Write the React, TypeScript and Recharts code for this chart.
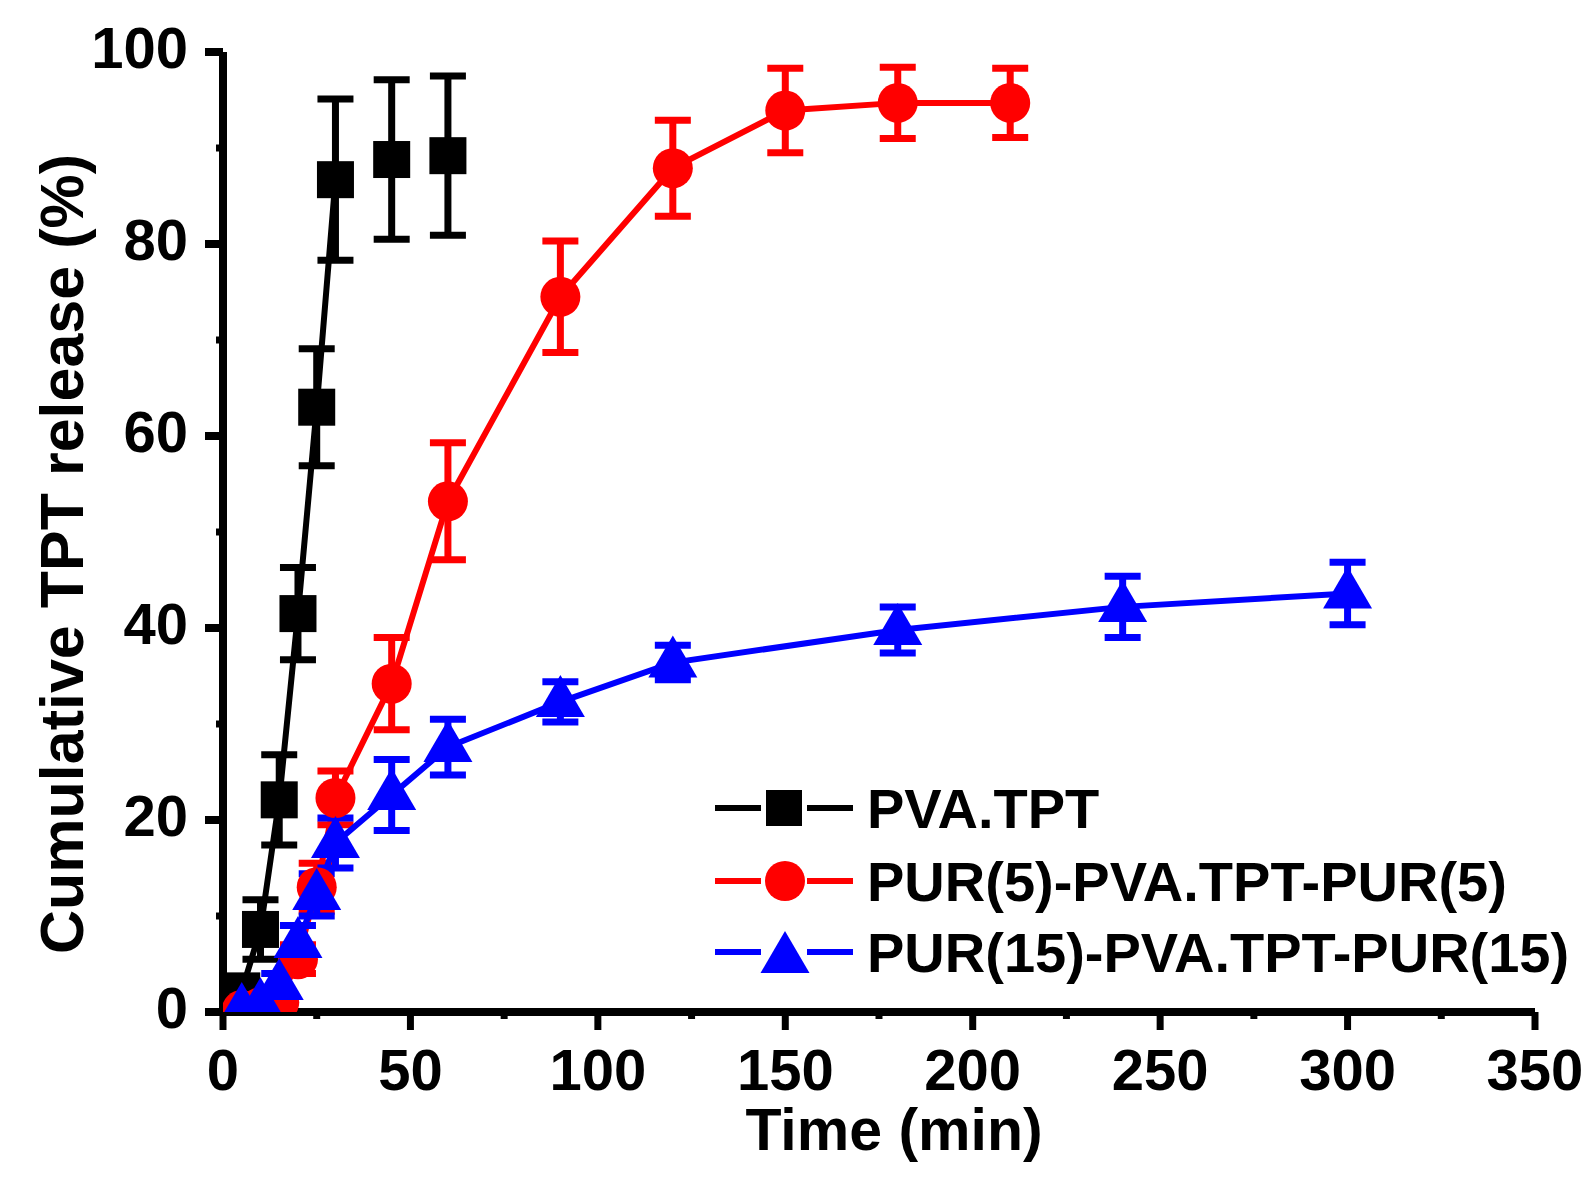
import React from "react";
import { ComposedChart, Line, XAxis, YAxis, ErrorBar, Legend } from "recharts";

// time (min), cumulative release (%) and SD for each formulation
const BLACK_TIME = [5, 10, 15, 20, 25, 30];
const BLACK_RELEASE = [2.2, 8.6, 22.1, 41.5, 63.0, 86.7];
const BLACK_ERR = [0.8, 3.1, 4.7, 4.8, 6.1, 8.4];
// the last two PVA.TPT points are plotted without a connecting line
const BLACK_LATE_TIME = [45, 60];
const BLACK_LATE_RELEASE = [88.8, 89.2];
const BLACK_LATE_ERR = [8.3, 8.3];

const RED_TIME = [5, 10, 15, 20, 25, 30, 45, 60, 90, 120, 150, 180, 210];
const RED_RELEASE = [0.2, 0.5, 1.0, 5.5, 13.0, 22.3, 34.2, 53.2, 74.5, 87.9, 93.9, 94.7, 94.7];
const RED_ERR = [0, 0.3, 0.5, 1.5, 2.5, 2.8, 4.8, 6.1, 5.8, 5.0, 4.4, 3.7, 3.6];

const BLUE_TIME = [5, 10, 15, 20, 25, 30, 45, 60, 90, 120, 180, 240, 300];
const BLUE_RELEASE = [0.3, 0.8, 2.8, 7.2, 12.2, 17.6, 22.6, 27.6, 32.3, 36.4, 39.8, 42.2, 43.6];
const BLUE_ERR = [0.3, 0.5, 1.2, 1.8, 2.2, 2.6, 3.7, 2.9, 2.1, 1.8, 2.4, 3.2, 3.25];

const X_TICKS = [0, 50, 100, 150, 200, 250, 300, 350];
const X_MINOR = [25, 75, 125, 175, 225, 275, 325];
const Y_TICKS = [0, 20, 40, 60, 80, 100];
const Y_MINOR = [10, 30, 50, 70, 90];

const SERIES_NAMES = ["PVA.TPT", "PUR(5)-PVA.TPT-PUR(5)", "PUR(15)-PVA.TPT-PUR(15)"];
const COLORS = ["#000000", "#ff0000", "#0000ff"];

const FONT = "'Liberation Sans', Arial, sans-serif";

const toPoints = (t: number[], v: number[], e: number[]) =>
  t.map((time, i) => ({ time, value: v[i], err: e[i] }));

const blackData = toPoints(BLACK_TIME, BLACK_RELEASE, BLACK_ERR);
const blackLateData = toPoints(BLACK_LATE_TIME, BLACK_LATE_RELEASE, BLACK_LATE_ERR);
const redData = toPoints(RED_TIME, RED_RELEASE, RED_ERR);
const blueData = toPoints(BLUE_TIME, BLUE_RELEASE, BLUE_ERR);

const squareDot = (props: any) => {
  const { cx, cy, index } = props;
  if (cx == null || cy == null) return <g key={index} />;
  return <rect key={index} x={cx - 18.5} y={cy - 18.5} width={37} height={37} fill={COLORS[0]} />;
};

const circleDot = (props: any) => {
  const { cx, cy, index } = props;
  if (cx == null || cy == null) return <g key={index} />;
  return <circle key={index} cx={cx} cy={cy} r={20} fill={COLORS[1]} />;
};

const triPath = (cx: number, cy: number) =>
  `M${cx},${cy - 27} L${cx + 24.5},${cy + 15} L${cx - 24.5},${cy + 15} Z`;

const triangleDot = (props: any) => {
  const { cx, cy, index } = props;
  if (cx == null || cy == null) return <g key={index} />;
  return <path key={index} d={triPath(cx, cy)} fill={COLORS[2]} />;
};

const renderXTick = (props: any) => {
  const { x, y, payload } = props;
  const v = payload.value;
  if (v % 50 !== 0) {
    return <line x1={x} x2={x} y1={y} y2={y + 7} stroke="#000" strokeWidth={7} />;
  }
  return (
    <g>
      <line x1={x} x2={x} y1={y} y2={y + 18} stroke="#000" strokeWidth={7} />
      <text x={x} y={y + 78} textAnchor="middle" fontFamily={FONT} fontWeight="bold" fontSize={58} fill="#000">
        {v}
      </text>
    </g>
  );
};

const renderYTick = (props: any) => {
  const { x, y, payload } = props;
  const v = payload.value;
  if (v % 20 !== 0) {
    return <line x1={x} x2={x - 7} y1={y} y2={y} stroke="#000" strokeWidth={7} />;
  }
  return (
    <g>
      <line x1={x} x2={x - 18} y1={y} y2={y} stroke="#000" strokeWidth={8} />
      <text x={x - 35} y={y + 16} textAnchor="end" fontFamily={FONT} fontWeight="bold" fontSize={58} fill="#000">
        {v}
      </text>
    </g>
  );
};

const XTitle = (props: any) => {
  const { viewBox } = props;
  return (
    <text
      x={viewBox.x + viewBox.width / 2 + 15}
      y={viewBox.y + 138}
      textAnchor="middle"
      fontFamily={FONT}
      fontWeight="bold"
      fontSize={59}
      fill="#000"
    >
      Time (min)
    </text>
  );
};

const YTitle = (props: any) => {
  const { viewBox } = props;
  const cx = 83;
  const cy = viewBox.y + viewBox.height / 2 + 22;
  return (
    <text
      x={cx}
      y={cy}
      transform={`rotate(-90, ${cx}, ${cy})`}
      textAnchor="middle"
      fontFamily={FONT}
      fontWeight="bold"
      fontSize={61}
      fill="#000"
    >
      Cumulative TPT release (%)
    </text>
  );
};

const renderLegend = () => {
  const rows = [38, 111, 182];
  return (
    <svg width={894} height={220}>
      {SERIES_NAMES.map((name, i) => {
        const y = rows[i];
        const color = COLORS[i];
        return (
          <g key={name}>
            <line x1={15} x2={61} y1={y} y2={y} stroke={color} strokeWidth={6} />
            <line x1={107} x2={153} y1={y} y2={y} stroke={color} strokeWidth={6} />
            {i === 0 && <rect x={66} y={y - 18} width={36} height={36} fill={color} />}
            {i === 1 && <circle cx={85} cy={y} r={20} fill={color} />}
            {i === 2 && <path d={triPath(85, y + 6)} fill={color} />}
            <text x={167} y={y + 20} fontFamily={FONT} fontWeight="bold" fontSize={56} fill="#000">
              {name}
            </text>
          </g>
        );
      })}
    </svg>
  );
};

export default function App() {
  const xTicks = [...X_TICKS, ...X_MINOR].sort((a, b) => a - b);
  const yTicks = [...Y_TICKS, ...Y_MINOR].sort((a, b) => a - b);

  return (
    <div style={{ width: 1594, height: 1183, background: "#fff" }}>
      <style>{"body{margin:0;background:#fff}"}</style>
      <ComposedChart width={1594} height={1183} margin={{ top: 52, right: 59, bottom: 0, left: 0 }}>
        <XAxis
          type="number"
          dataKey="time"
          domain={[0, 350]}
          ticks={xTicks}
          interval={0}
          tick={renderXTick}
          tickLine={false}
          tickSize={0}
          tickMargin={0}
          axisLine={{ stroke: "#000", strokeWidth: 8 }}
          height={171}
          allowDataOverflow
          label={<XTitle />}
        />
        <YAxis
          type="number"
          domain={[0, 100]}
          ticks={yTicks}
          interval={0}
          tick={renderYTick}
          tickLine={false}
          tickSize={0}
          tickMargin={0}
          axisLine={{ stroke: "#000", strokeWidth: 8 }}
          width={223}
          allowDataOverflow
          label={<YTitle />}
        />
        <Line
          data={blackData}
          dataKey="value"
          type="linear"
          stroke={COLORS[0]}
          strokeWidth={6}
          dot={squareDot}
          activeDot={false}
          isAnimationActive={false}
        >
          <ErrorBar dataKey="err" width={18} strokeWidth={7} stroke={COLORS[0]} direction="y" />
        </Line>
        <Line
          data={blackLateData}
          dataKey="value"
          type="linear"
          stroke="none"
          dot={squareDot}
          activeDot={false}
          isAnimationActive={false}
        >
          <ErrorBar dataKey="err" width={18} strokeWidth={7} stroke={COLORS[0]} direction="y" />
        </Line>
        <Line
          data={redData}
          dataKey="value"
          type="linear"
          stroke={COLORS[1]}
          strokeWidth={6}
          dot={circleDot}
          activeDot={false}
          isAnimationActive={false}
        >
          <ErrorBar dataKey="err" width={18} strokeWidth={7} stroke={COLORS[1]} direction="y" />
        </Line>
        <Line
          data={blueData}
          dataKey="value"
          type="linear"
          stroke={COLORS[2]}
          strokeWidth={6}
          dot={triangleDot}
          activeDot={false}
          isAnimationActive={false}
        >
          <ErrorBar dataKey="err" width={18} strokeWidth={7} stroke={COLORS[2]} direction="y" />
        </Line>
        <Legend
          layout="vertical"
          align="center"
          verticalAlign="middle"
          wrapperStyle={{ left: 700, top: 770, width: 894, height: 220 }}
          content={renderLegend}
        />
      </ComposedChart>
    </div>
  );
}
